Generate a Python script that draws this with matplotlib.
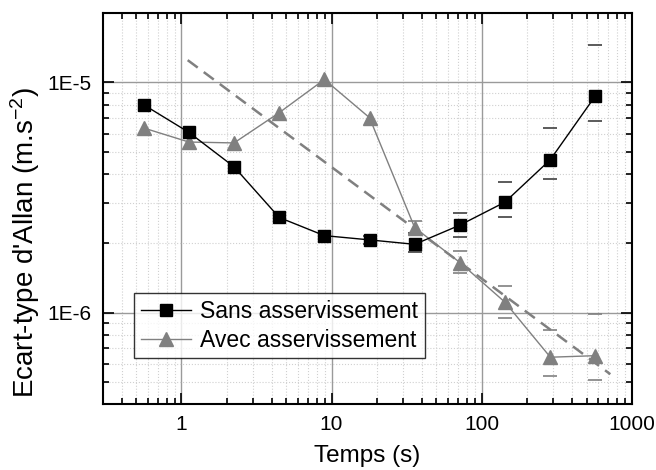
import numpy as np
import matplotlib
matplotlib.use("Agg")
import matplotlib.pyplot as plt
from matplotlib.ticker import LogLocator, FixedLocator, FixedFormatter, NullFormatter

plt.rcParams["font.family"] = ["Liberation Sans", "DejaVu Sans"]
plt.rcParams["mathtext.fontset"] = "custom"
plt.rcParams["mathtext.rm"] = "Liberation Sans"
plt.rcParams["mathtext.default"] = "regular"

# Temps d'integration (s)
tau = [0.56, 1.12, 2.24, 4.48, 8.96, 17.9, 35.8, 71.7, 143, 287, 573]

# Sans asservissement
sans = [8.0e-6, 6.07e-6, 4.3e-6, 2.59e-6, 2.16e-6, 2.07e-6, 1.98e-6, 2.40e-6, 3.02e-6, 4.62e-6, 8.75e-6]
sans_hi = [None, None, None, None, None, 2.15e-6, 2.21e-6, 2.71e-6, 3.70e-6, 6.34e-6, 1.46e-5]
sans_lo = [None, None, None, None, None, 1.98e-6, 1.84e-6, 2.13e-6, 2.61e-6, 3.80e-6, 6.8e-6]

# Avec asservissement
avec = [6.34e-6, 5.51e-6, 5.46e-6, 7.39e-6, 1.03e-5, 7.03e-6, 2.34e-6, 1.65e-6, 1.11e-6, 6.4e-7, 6.5e-7]
avec_hi = [None, None, None, None, None, None, 2.5e-6, 1.85e-6, 1.31e-6, 8.4e-7, 9.9e-7]
avec_lo = [None, None, None, None, None, None, 2.2e-6, 1.49e-6, 0.95e-6, 5.3e-7, 5.1e-7]

# droite en tau^-1/2
fit_x = [1.1, 720]
fit_y = [1.25e-5, 5.4e-7]


def err_arrays(y, hi, lo):
    up = [h - v if h is not None else 0 for v, h in zip(y, hi)]
    dn = [v - l if l is not None else 0 for v, l in zip(y, lo)]
    return [dn, up]


fig = plt.figure(figsize=(6.56, 4.70), dpi=100)
ax = fig.add_axes([0.157, 0.140, 0.806, 0.832])

ax.set_xscale("log")
ax.set_yscale("log")

# grille
ax.grid(True, which="major", color="#9a9a9a", lw=1.0, ls="-")
ax.grid(True, which="minor", color="#d0d0d0", lw=0.8, ls=":")
ax.set_axisbelow(True)

ax.plot(fit_x, fit_y, color="#808080", lw=1.8, ls=(0, (5, 3)), zorder=2)

# barres d'erreur (seulement les extremites)
m_sans = [h is not None for h in sans_hi]
ax.errorbar(np.array(tau)[m_sans], np.array(sans)[m_sans],
            yerr=np.array(err_arrays(sans, sans_hi, sans_lo))[:, m_sans],
            fmt="none", ecolor="#404040", elinewidth=0, capsize=5, capthick=1.2, zorder=3)
m_avec = [h is not None for h in avec_hi]
ax.errorbar(np.array(tau)[m_avec], np.array(avec)[m_avec],
            yerr=np.array(err_arrays(avec, avec_hi, avec_lo))[:, m_avec],
            fmt="none", ecolor="#808080", elinewidth=0, capsize=5, capthick=1.2, zorder=3)

ax.plot(tau, sans, color="black", lw=1.0, marker="s", ms=8, mfc="black", mec="black",
        label="Sans asservissement", zorder=5)
ax.plot(tau, avec, color="#808080", lw=1.0, marker="^", ms=10, mfc="#808080", mec="#808080",
        label="Avec asservissement", zorder=4)

ax.set_xlim(0.3, 1000)
ax.set_ylim(4e-7, 2e-5)

ax.xaxis.set_major_locator(FixedLocator([1, 10, 100, 1000]))
ax.xaxis.set_major_formatter(FixedFormatter(["1", "10", "100", "1000"]))
ax.xaxis.set_minor_locator(LogLocator(base=10, subs=np.arange(2, 10)))
ax.xaxis.set_minor_formatter(NullFormatter())
ax.yaxis.set_major_locator(FixedLocator([1e-6, 1e-5]))
ax.yaxis.set_major_formatter(FixedFormatter(["1E-6", "1E-5"]))
ax.yaxis.set_minor_locator(LogLocator(base=10, subs=np.arange(2, 10)))
ax.yaxis.set_minor_formatter(NullFormatter())

ax.tick_params(which="both", direction="in", top=True, right=True, labelsize=15, width=1.2)
ax.tick_params(which="major", length=8, pad=8)
ax.tick_params(which="minor", length=4)
for s in ax.spines.values():
    s.set_linewidth(1.5)

ax.set_xlabel("Temps (s)", fontsize=17.5, labelpad=8)
ax.set_ylabel("Ecart-type d'Allan (m.s$^{-2}$)", fontsize=20)
ax.yaxis.set_label_coords(-0.115, 0.414)

leg = ax.legend(loc="lower left", bbox_to_anchor=(0.058, 0.117), fontsize=16.5, frameon=True,
                fancybox=False, edgecolor="black", handlelength=2.2, borderpad=0.3,
                labelspacing=0.25, handletextpad=0.4, borderaxespad=0)
leg.get_frame().set_linewidth(1.0)

fig.savefig("out.png", dpi=100)
